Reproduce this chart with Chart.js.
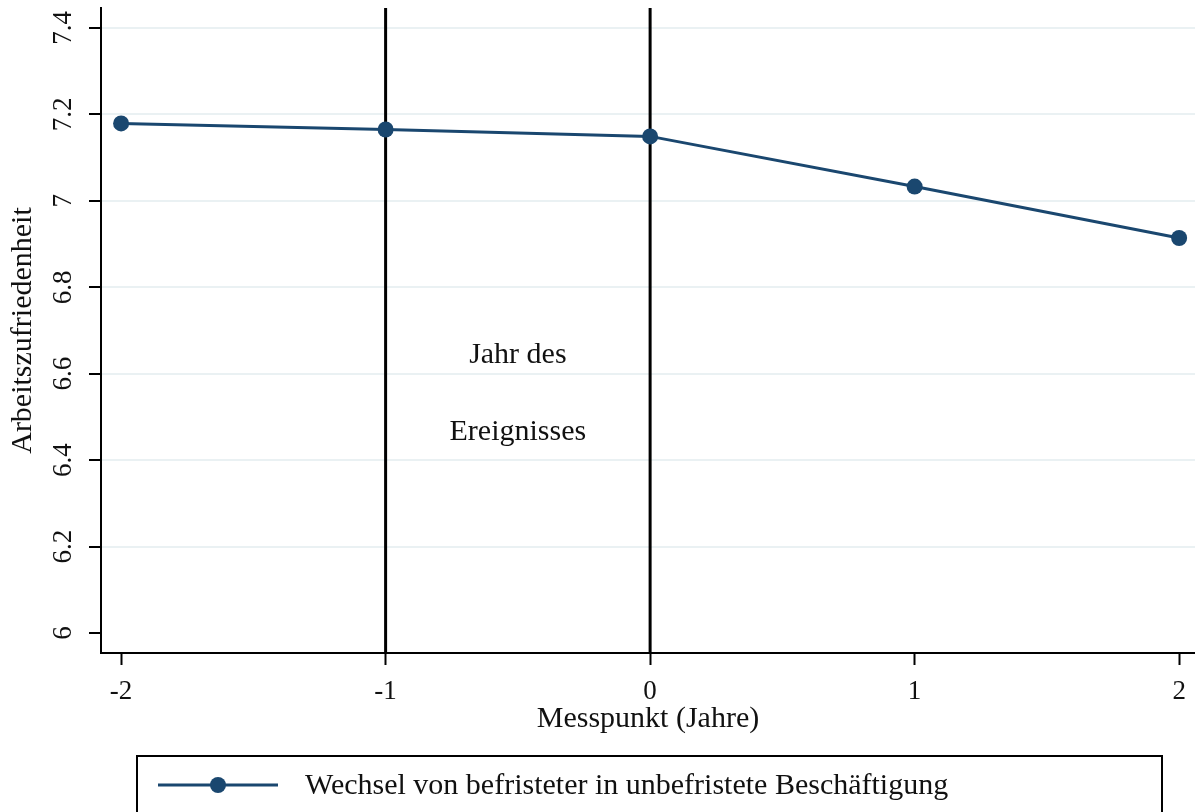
<!DOCTYPE html>
<html>
<head>
<meta charset="utf-8">
<script src="https://cdn.jsdelivr.net/npm/chart.js@4.4.1/dist/chart.umd.min.js"></script>
<style>
  html, body { margin: 0; padding: 0; background: #fff; }
  #wrap { width: 1195px; height: 812px; position: relative; }
</style>
</head>
<body>
<div id="wrap"><canvas id="c"></canvas></div>
<script>
// ---- data ----
const categories = [-2, -1, 0, 1, 2];
const satisfaction = [7.179, 7.165, 7.149, 7.033, 6.914];
const yTicks = [6, 6.2, 6.4, 6.6, 6.8, 7, 7.2, 7.4];
const xTicks = [-2, -1, 0, 1, 2];
const eventLines = [-1, 0];
const yRange = [5.954, 7.446];
const xRange = [-2.076, 2.06];
const seriesLabel = 'Wechsel von befristeter in unbefristete Beschäftigung';
const annotationLines = ['Jahr des', 'Ereignisses'];
const annotationX = -0.5;
const annotationY = [6.643, 6.465];
const yTitle = 'Arbeitszufriedenheit';
const xTitle = 'Messpunkt (Jahre)';

const NAVY = '#1a476f';
const FONT = "'Liberation Serif', 'Times New Roman', serif";

const datasets = [{
  label: seriesLabel,
  data: categories.map((c, i) => ({ x: c, y: satisfaction[i] })),
  borderColor: NAVY,
  backgroundColor: NAVY,
  borderWidth: 3,
  pointRadius: 8,
  pointBorderWidth: 0,
  pointBackgroundColor: NAVY,
  tension: 0,
  order: 0
}];
eventLines.forEach(v => {
  datasets.push({
    label: 'event' + v,
    data: [{ x: v, y: yRange[0] }, { x: v, y: yRange[1] }],
    borderColor: '#000',
    borderWidth: 3,
    pointRadius: 0,
    order: 1
  });
});

const overlayPlugin = {
  id: 'overlay',
  afterDatasetsDraw(chart) {
    const ctx = chart.ctx;
    const xs = chart.scales.x, ys = chart.scales.y;
    ctx.save();
    ctx.fillStyle = '#111';
    ctx.font = '30px ' + FONT;
    ctx.textAlign = 'center';
    ctx.textBaseline = 'middle';
    annotationLines.forEach((t, i) => {
      ctx.fillText(t, xs.getPixelForValue(annotationX), ys.getPixelForValue(annotationY[i]));
    });
    ctx.restore();
  },
  afterDraw(chart) {
    const ctx = chart.ctx;
    ctx.save();
    // legend box
    ctx.strokeStyle = '#000';
    ctx.lineWidth = 2;
    ctx.strokeRect(137, 756, 1025, 80);
    // symbol
    const ly = 785;
    ctx.strokeStyle = NAVY;
    ctx.lineWidth = 3;
    ctx.beginPath();
    ctx.moveTo(158, ly);
    ctx.lineTo(278, ly);
    ctx.stroke();
    ctx.fillStyle = NAVY;
    ctx.beginPath();
    ctx.arc(218, ly, 8, 0, Math.PI * 2);
    ctx.fill();
    // text
    ctx.fillStyle = '#111';
    ctx.font = '30px ' + FONT;
    ctx.textAlign = 'left';
    ctx.textBaseline = 'middle';
    ctx.fillText(seriesLabel, 305, ly + 1);
    ctx.restore();
  }
};

new Chart(document.getElementById('c'), {
  type: 'line',
  data: { datasets },
  options: {
    responsive: true,
    maintainAspectRatio: false,
    animation: false,
    layout: { autoPadding: false, padding: { top: 8, bottom: 75, left: 0, right: 0 } },
    plugins: { legend: { display: false }, tooltip: { enabled: false } },
    scales: {
      x: {
        type: 'linear',
        min: xRange[0],
        max: xRange[1],
        afterBuildTicks: s => { s.ticks = xTicks.map(v => ({ value: v })); },
        afterFit: s => { s.height = 84; s.paddingLeft = 0; s.paddingRight = 0; },
        border: { display: true, color: '#000', width: 2 },
        grid: { drawOnChartArea: false, drawTicks: true, tickLength: 12, tickColor: '#000', tickWidth: 2 },
        ticks: { color: '#111', font: { family: FONT, size: 27 }, padding: 11, maxRotation: 0, minRotation: 0,
                 callback: v => String(v) },
        title: { display: true, text: xTitle, color: '#111', font: { family: FONT, size: 30 }, padding: { top: 0, bottom: 0 } }
      },
      y: {
        type: 'linear',
        min: yRange[0],
        max: yRange[1],
        afterBuildTicks: s => { s.ticks = yTicks.map(v => ({ value: v })); },
        afterFit: s => { s.width = 101; s.paddingTop = 0; s.paddingBottom = 0; },
        border: { display: true, color: '#000', width: 2 },
        grid: {
          color: c => (c.tick && c.tick.value === 6) ? 'rgba(0,0,0,0)' : '#eaf1f3',
          lineWidth: 2,
          drawTicks: true, tickLength: 12, tickColor: '#000', tickWidth: 2
        },
        ticks: { color: '#111', font: { family: FONT, size: 27 }, padding: 8, minRotation: 90, maxRotation: 90,
                 crossAlign: 'center',
                 callback: v => String(+Number(v).toFixed(1)) },
        title: { display: true, text: yTitle, color: '#111', font: { family: FONT, size: 30 }, padding: { top: 5, bottom: 0 } }
      }
    }
  },
  plugins: [overlayPlugin]
});
</script>
</body>
</html>
